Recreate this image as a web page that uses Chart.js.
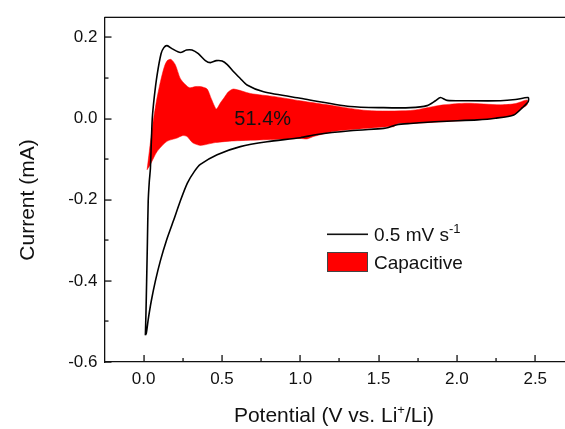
<!DOCTYPE html>
<html>
<head>
<meta charset="utf-8">
<script src="https://cdn.jsdelivr.net/npm/chart.js@4.4.1/dist/chart.umd.min.js"></script>
<style>
    html, body { margin: 0; padding: 0; background: #fff; overflow: hidden; }
    canvas { display: block; }
</style>
</head>
<body>
<canvas id="cvChart" width="565" height="429"></canvas>
<script>
// CV loop at 0.5 mV/s: anodic sweep up to 2.45 V, then cathodic sweep back
const cvPotential = [
    0.011, 0.015, 0.019, 0.024, 0.029, 0.036, 0.043, 0.049, 0.055, 0.068, 0.086, 0.111, 0.129, 0.149,
    0.183, 0.234, 0.273, 0.309, 0.349, 0.394, 0.426, 0.464, 0.501, 0.534, 0.573, 0.617, 0.660, 0.766,
    1.000, 1.319, 1.531, 1.703, 1.810, 1.863, 1.895, 1.937, 2.065, 2.278, 2.374, 2.455,
    2.455, 2.418, 2.363, 2.246, 2.129, 1.895, 1.703, 1.618, 1.563, 1.533, 1.320, 1.107, 1.000, 0.788,
    0.617, 0.469, 0.362, 0.324, 0.279, 0.234, 0.190, 0.145, 0.107, 0.075, 0.049, 0.030, 0.017, 0.011
];
const cvCurrent = [
    -0.534, -0.475, -0.401, -0.303, -0.204, -0.155, -0.123, -0.057, 0.000, 0.054, 0.108, 0.160, 0.175, 0.180,
    0.172, 0.163, 0.169, 0.169, 0.160, 0.143, 0.138, 0.143, 0.142, 0.133, 0.116, 0.099, 0.083, 0.066,
    0.050, 0.030, 0.027, 0.027, 0.032, 0.044, 0.052, 0.045, 0.044, 0.044, 0.047, 0.052,
    0.042, 0.027, 0.009, 0.001, -0.003, -0.007, -0.012, -0.015, -0.022, -0.024, -0.030, -0.039, -0.047, -0.057,
    -0.069, -0.089, -0.113, -0.130, -0.159, -0.203, -0.252, -0.301, -0.350, -0.400, -0.449, -0.493, -0.529, -0.534
];

// capacitive contribution: upper edge left to right, then lower edge right to left
const capPotential = [
    0.022, 0.036, 0.056, 0.081, 0.107, 0.132, 0.151, 0.175, 0.202, 0.234, 0.266, 0.294, 0.330, 0.362,
    0.405, 0.432, 0.464, 0.490, 0.511, 0.541, 0.575, 0.681, 0.841, 1.000, 1.211, 1.427, 1.703, 1.852,
    1.916, 2.065, 2.278, 2.374, 2.448,
    2.448, 2.405, 2.363, 2.246, 2.129, 1.852, 1.703, 1.626, 1.595, 1.554, 1.427, 1.213, 1.086, 1.043,
    1.000, 0.788, 0.575, 0.458, 0.362, 0.311, 0.277, 0.247, 0.213, 0.149, 0.086, 0.043, 0.022
];
const capCurrent = [
    -0.126, -0.081, -0.020, 0.042, 0.091, 0.128, 0.143, 0.146, 0.133, 0.099, 0.084, 0.076, 0.079, 0.079,
    0.073, 0.049, 0.024, 0.039, 0.050, 0.066, 0.073, 0.062, 0.054, 0.044, 0.032, 0.020, 0.020, 0.030,
    0.034, 0.038, 0.034, 0.037, 0.046,
    0.034, 0.022, 0.009, 0.001, -0.003, -0.009, -0.012, -0.012, -0.020, -0.020, -0.024, -0.032, -0.044, -0.050,
    -0.049, -0.052, -0.055, -0.059, -0.066, -0.059, -0.044, -0.042, -0.048, -0.056, -0.081, -0.113, -0.126
];

const xTickLabels = [0, 0.5, 1.0, 1.5, 2.0, 2.5];
const xMinorTicks = [0.25, 0.75, 1.25, 1.75, 2.25];
const yTickLabels = [-0.6, -0.4, -0.2, 0.0, 0.2];
const yMinorTicks = [-0.5, -0.3, -0.1, 0.1];
const capacitiveShare = '51.4%';
const shareAt = { x: 0.76, y: 0.0 };

const FONT = '"Liberation Sans", Arial, sans-serif';

function toPoints(xs, ys) {
    return xs.map((x, i) => ({ x: x, y: ys[i] }));
}

function drawSup(ctx, parts, x, y, align) {
    // parts: [text, isSuperscript, size]
    let total = 0;
    parts.forEach(p => {
        ctx.font = p[1] ? '13px ' + FONT : p[2] + 'px ' + FONT;
        total += ctx.measureText(p[0]).width;
    });
    let cx = align === 'center' ? x - total / 2 : x;
    parts.forEach(p => {
        ctx.font = p[1] ? '13px ' + FONT : p[2] + 'px ' + FONT;
        ctx.fillText(p[0], cx, p[1] ? y - 8 : y);
        cx += ctx.measureText(p[0]).width;
    });
}

const framePlugin = {
    id: 'frame',
    afterDatasetsDraw(chart) {
        const ctx = chart.ctx;
        const a = chart.chartArea;
        const xs = chart.scales.x;
        const ys = chart.scales.y;
        ctx.save();
        ctx.fillStyle = '#111';

        // top frame line
        ctx.fillRect(a.left, a.top - 0.5, a.right - a.left, 1.3);

        // inward ticks
        xTickLabels.forEach(v => ctx.fillRect(Math.round(xs.getPixelForValue(v)) - 0.6, a.bottom - 7, 1.3, 7));
        xMinorTicks.forEach(v => ctx.fillRect(Math.round(xs.getPixelForValue(v)) - 0.6, a.bottom - 4, 1.3, 4));
        yTickLabels.forEach(v => ctx.fillRect(a.left, Math.round(ys.getPixelForValue(v)) - 0.6, 7, 1.3));
        yMinorTicks.forEach(v => ctx.fillRect(a.left, Math.round(ys.getPixelForValue(v)) - 0.6, 4, 1.3));

        // share label inside the capacitive area
        ctx.font = '20px ' + FONT;
        ctx.textAlign = 'center';
        ctx.textBaseline = 'middle';
        ctx.fillText(capacitiveShare, xs.getPixelForValue(shareAt.x), ys.getPixelForValue(shareAt.y) + 1);

        // legend
        ctx.textAlign = 'left';
        ctx.textBaseline = 'alphabetic';
        ctx.fillRect(327, 233.5, 41, 1.6);
        drawSup(ctx, [['0.5 mV s', false, 19], ['-1', true]], 374, 241, 'left');
        ctx.fillStyle = '#ff0000';
        ctx.fillRect(327, 252, 41, 20);
        ctx.strokeStyle = '#444';
        ctx.lineWidth = 1;
        ctx.strokeRect(327.5, 252.5, 40, 19);
        ctx.fillStyle = '#111';
        ctx.font = '19px ' + FONT;
        ctx.fillText('Capacitive', 374, 269);

        // axis titles
        drawSup(ctx, [['Potential (V vs. Li', false, 21], ['+', true], ['/Li)', false, 21]], 334, 422, 'center');
        ctx.save();
        ctx.translate(34, 200);
        ctx.rotate(-Math.PI / 2);
        ctx.font = '21px ' + FONT;
        ctx.textAlign = 'center';
        ctx.fillText('Current (mA)', 0, 0);
        ctx.restore();

        ctx.restore();
    }
};

new Chart(document.getElementById('cvChart'), {
    type: 'scatter',
    data: {
        datasets: [
            {
                label: '0.5 mV s-1',
                data: toPoints(cvPotential, cvCurrent),
                showLine: true,
                borderColor: '#000',
                borderWidth: 1.6,
                pointRadius: 0,
                tension: 0.25,
                fill: false,
                order: 0
            },
            {
                label: 'Capacitive',
                data: toPoints(capPotential, capCurrent),
                showLine: true,
                borderColor: '#ff0000',
                borderWidth: 0.5,
                backgroundColor: '#ff0000',
                pointRadius: 0,
                tension: 0.25,
                fill: 'shape',
                order: 1
            }
        ]
    },
    options: {
        responsive: false,
        animation: false,
        events: [],
        layout: { padding: { top: 15, right: 0, left: 0, bottom: 0 } },
        plugins: {
            legend: { display: false },
            tooltip: { enabled: false }
        },
        scales: {
            x: {
                type: 'linear',
                min: -0.25,
                max: 2.69,
                grid: { display: false, drawTicks: false },
                border: { display: true, color: '#111', width: 1.3 },
                afterBuildTicks: s => { s.ticks = xTickLabels.map(v => ({ value: v })); },
                afterFit: s => { s.height = 67; },
                ticks: {
                    padding: 7,
                    color: '#111',
                    font: { family: FONT, size: 17 },
                    maxRotation: 0,
                    callback: v => v.toFixed(1)
                }
            },
            y: {
                type: 'linear',
                min: -0.6,
                max: 0.25,
                grid: { display: false, drawTicks: false },
                border: { display: true, color: '#111', width: 1.3 },
                afterBuildTicks: s => { s.ticks = yTickLabels.map(v => ({ value: v })); },
                afterFit: s => { s.width = 104.5; },
                ticks: {
                    padding: 7,
                    color: '#111',
                    font: { family: FONT, size: 17 },
                    callback: v => v.toFixed(1)
                }
            }
        }
    },
    plugins: [framePlugin]
});
</script>
</body>
</html>
